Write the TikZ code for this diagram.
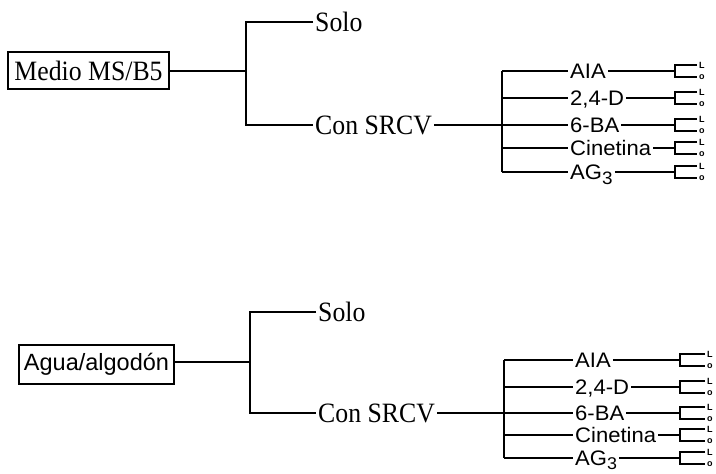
\documentclass[tikz,border=0pt]{standalone}
\usepackage{fontspec}
\setmainfont[FakeStretch=0.92]{Liberation Serif}
\newfontfamily\chemfont[FakeStretch=1.05]{Liberation Sans}
\newfontfamily\plainsans{Liberation Sans}
\begin{document}
\begin{tikzpicture}[x=1pt,y=-1pt,
  ln/.style={line width=1.4pt},
  serif/.style={font=\fontsize{28}{28}\selectfont, inner sep=2pt, anchor=west, text height=18.5pt, text depth=0pt},
  chem/.style={font=\chemfont\fontsize{21}{21}\selectfont, inner sep=2pt, anchor=west, text height=15pt, text depth=0pt},
  tinytxt/.style={font=\plainsans\bfseries\fontsize{9}{9}\selectfont, inner sep=0pt, anchor=base west},
  framebox/.style={draw, line width=1.4pt, inner sep=0pt}
]
\useasboundingbox (0,0) rectangle (716,474);

% ---------- top section ----------
\node[framebox, minimum width=161pt, minimum height=37pt, font=\fontsize{28}{28}\selectfont] (m1) at (88.5,70.5) {Medio MS/B5};
\node[serif] (s1) at (313,22) {Solo};
\node[serif] (c1) at (313,125) {Con SRCV};
\coordinate (j1) at (246,71);
\draw[ln] (m1.east |- j1) -- (j1);
\draw[ln] (s1.west) -| (j1) |- (c1.west);
\foreach \n/\t/\y in {a/AIA/71, b/{2,4-D}/98, c/6-BA/125, d/Cinetina/148, e/{AG\raisebox{-5pt}{\fontsize{18}{18}\selectfont 3}}/172}{
  \coordinate (v1\n) at (502,\y);
  \coordinate (k1\n) at (675,\y);
  \node[chem] (t1\n) at (568,\y) {\t};
  \draw[ln] (v1\n) -- (t1\n.west);
  \draw[ln] (t1\n.east) -- (k1\n);
  \draw[ln] (697,{\y-6}) -| (k1\n) |- (697,{\y+6});
  \node[tinytxt] (l1\n) at (699,{\y-3}) {L};
  \node[tinytxt] (o1\n) at (699,{\y+8}) {o};
}
\draw[ln] (c1.east) -- (v1c);
\draw[ln] (v1a) -- (v1e);

% ---------- bottom section ----------
\node[framebox, minimum width=155pt, minimum height=39pt, font=\plainsans\fontsize{23.5}{23.5}\selectfont] (m2) at (96.5,364.5) {Agua/algodón};
\node[serif] (s2) at (316,312) {Solo};
\node[serif] (c2) at (316,413) {Con SRCV};
\coordinate (j2) at (250,362);
\draw[ln] (m2.east |- j2) -- (j2);
\draw[ln] (s2.west) -| (j2) |- (c2.west);
\foreach \n/\t/\y in {a/AIA/360, b/{2,4-D}/387, c/6-BA/413, d/Cinetina/435, e/{AG\raisebox{-3.5pt}{\fontsize{17}{17}\selectfont 3}}/458}{
  \coordinate (v2\n) at (504,\y);
  \coordinate (k2\n) at (680,\y);
  \node[chem] (t2\n) at (573,\y) {\t};
  \draw[ln] (v2\n) -- (t2\n.west);
  \draw[ln] (t2\n.east) -- (k2\n);
  \draw[ln] (705,{\y-6}) -| (k2\n) |- (705,{\y+6});
  \node[tinytxt] (l2\n) at (707,{\y-3}) {L};
  \node[tinytxt] (o2\n) at (707,{\y+8}) {o};
}
\draw[ln] (c2.east) -- (v2c);
\draw[ln] (v2a) -- (v2e);
\end{tikzpicture}
\end{document}
